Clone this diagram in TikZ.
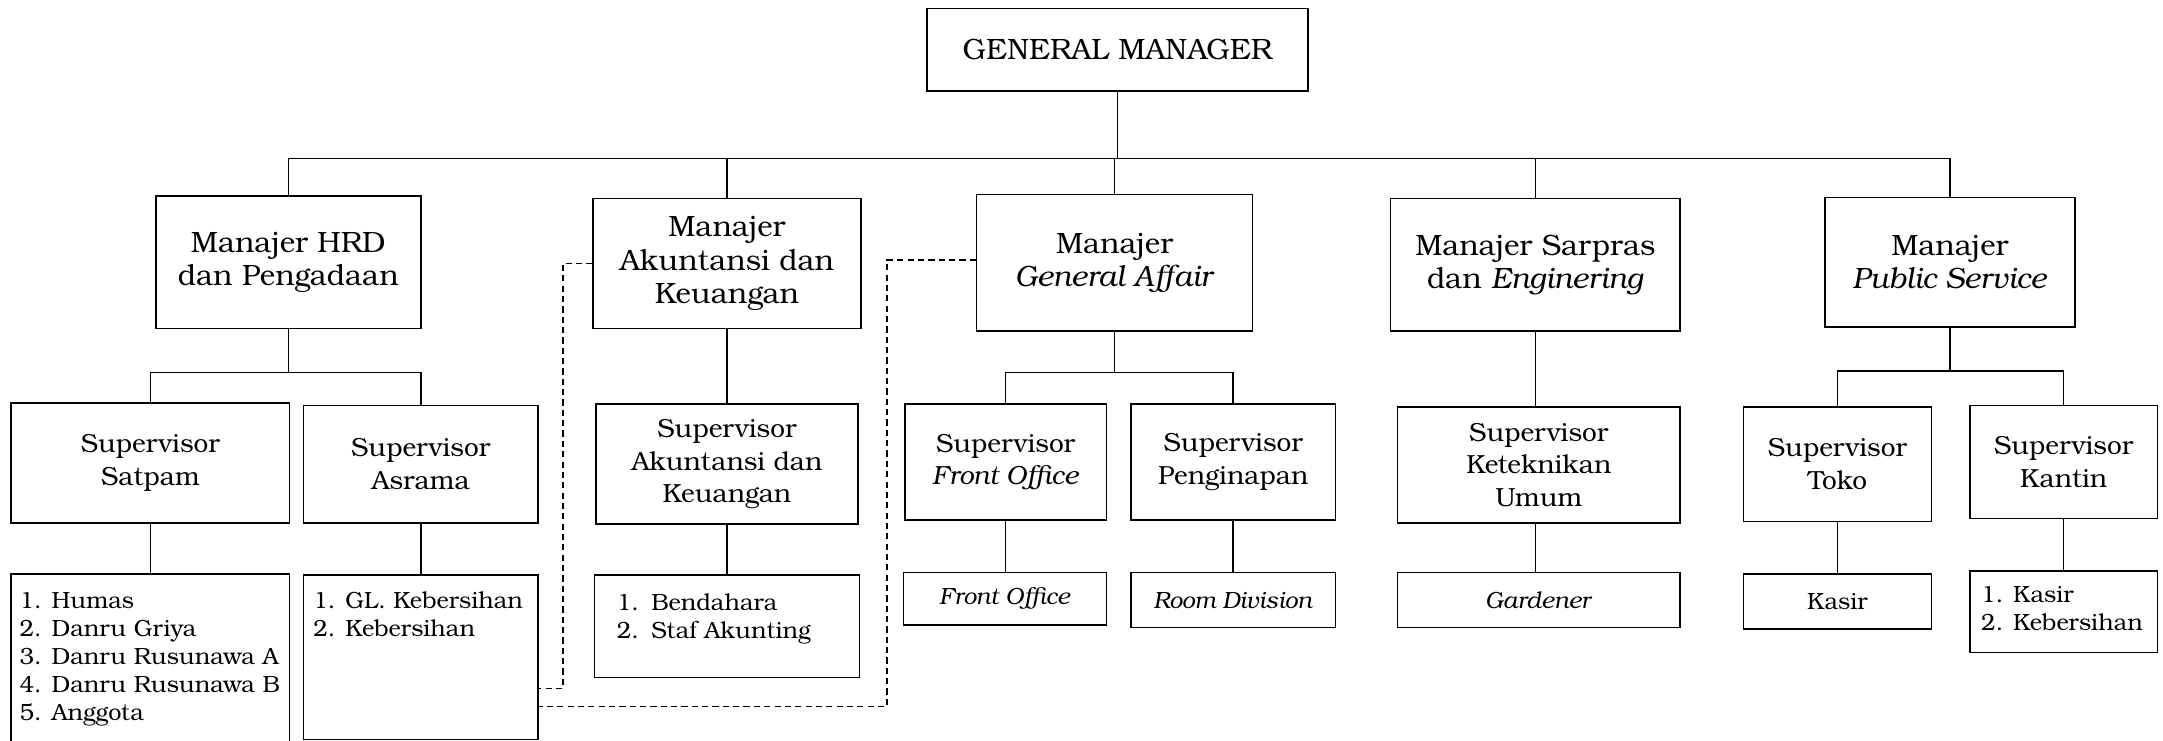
\documentclass[tikz,border=0pt]{standalone}
\usepackage{fontspec}
\IfFontExistsTF{TeX Gyre Bonum}{\setmainfont{TeX Gyre Bonum}}{\setmainfont{Liberation Serif}}
\newcommand{\mainfs}{\fontsize{19}{23.5}\selectfont}
\newcommand{\mgrfs}{\fontsize{21.3}{24}\selectfont}
\newcommand{\listfs}{\fontsize{17}{20.3}\selectfont}
\newcommand{\bx}[6]{\node[box, minimum width=#4pt, minimum height=#5pt] (#1) at (#2,#3) {#6};}
\newcommand{\mbx}[6]{\node[box, mgr, minimum width=#4pt, minimum height=#5pt] (#1) at (#2,#3) {#6};}
\begin{document}
\begin{tikzpicture}[x=1pt,y=-1pt,
  box/.style={draw=black, line width=1.1pt, inner sep=0pt, align=center, font=\mainfs},
  mgr/.style={font=\mgrfs},
  small/.style={font=\listfs},
  lst/.style={anchor=north west, inner sep=0pt, align=left, font=\listfs},
  conn/.style={line width=1.1pt},
  dsh/.style={line width=1pt, dash pattern=on 4.5pt off 3pt}]
\clip (0,0) rectangle (1568,537);
% top
\mbx{gm}{810}{36}{276}{60}{GENERAL MANAGER}
% managers
\mbx{hrd}{209}{190}{192}{96}{Manajer HRD\\dan Pengadaan}
\mbx{akm}{527}{191}{194}{94}{Manajer\\Akuntansi dan\\Keuangan}
\mbx{gam}{808}{190.5}{200}{99}{Manajer\\\textit{General Af{}f\kern-0.1em air}}
\mbx{sar}{1113}{192}{210}{96}{Manajer Sarpras\\dan \textit{Enginering}}
\mbx{psm}{1413.5}{190}{181}{94}{Manajer\\\textit{Public Service}}
% supervisors
\bx{sat}{109}{335.5}{202}{87}{Supervisor\\Satpam}
\bx{asr}{305}{336.5}{170}{85}{Supervisor\\Asrama}
\bx{sak}{527}{336.5}{190}{87}{Supervisor\\Akuntansi dan\\Keuangan}
\bx{sfo}{729}{335}{146}{84}{Supervisor\\\textit{Front Of{}fice}}
\bx{spe}{894}{335}{148}{84}{Supervisor\\Penginapan}
\bx{ske}{1115.5}{337}{205}{84}{Supervisor\\Keteknikan\\Umum}
\bx{sto}{1332}{336.5}{136}{83}{Supervisor\\Toko}
\bx{ska}{1496}{335}{136}{82}{Supervisor\\Kantin}
% staff
\bx{lsat}{109}{480}{202}{128}{}
\bx{lasr}{305}{476.5}{170}{119}{}
\bx{lsak}{527}{454}{192}{74}{}
\node[box, small, minimum width=147pt, minimum height=38pt] (lfo) at (728.5,434) {\textit{Front Of{}fice}};
\node[box, small, minimum width=148pt, minimum height=40pt] (lrd) at (894,435) {\textit{Room Division}};
\node[box, small, minimum width=205pt, minimum height=40pt] (lga) at (1115.5,435) {\textit{Gardener}};
\node[box, small, minimum width=136pt, minimum height=40pt] (lks) at (1332,436) {Kasir};
\bx{lka}{1496}{443.5}{136}{59}{}
% list texts
\node[lst] (tsat) at (14,429) {1. Humas\\2. Danru Griya\\3. Danru Rusunawa A\\4. Danru Rusunawa B\\5. Anggota};
\node[lst] (tasr) at (227,429) {1. GL. Kebersihan\\2. Kebersihan};
\node[lst] (tsak) at (447,430) {\makebox[25pt][l]{1.}Bendahara\\\makebox[25pt][l]{2.}Staf Akunting};
\node[lst] (tka) at (1436,425) {1. Kasir\\2. Kebersihan};
% connectors
\coordinate (bus) at (810,115);
\draw[conn] (gm.south) -- (gm.south |- bus);
\draw[conn] (hrd.north) -- (hrd.north |- bus) -- (psm.north |- bus) -- (psm.north);
\draw[conn] (akm.north) -- (akm.north |- bus);
\draw[conn] (gam.north) -- (gam.north |- bus);
\draw[conn] (sar.north) -- (sar.north |- bus);
\coordinate (hbr) at (209,270);
\draw[conn] (hrd.south) -- (hbr);
\draw[conn] (sat.north) -- (sat.north |- hbr) -- (asr.north |- hbr) -- (asr.north);
\coordinate (gbr) at (808,270);
\draw[conn] (gam.south) -- (gbr);
\draw[conn] (sfo.north) -- (sfo.north |- gbr) -- (spe.north |- gbr) -- (spe.north);
\coordinate (pbr) at (1413.5,269);
\draw[conn] (psm.south) -- (pbr);
\draw[conn] (sto.north) -- (sto.north |- pbr) -- (ska.north |- pbr) -- (ska.north);
\draw[conn] (akm.south) -- (sak.north);
\draw[conn] (sar.south) -- (ske.north -| sar.south);
\draw[conn] (sat.south) -- (lsat.north);
\draw[conn] (asr.south) -- (lasr.north);
\draw[conn] (sak.south) -- (lsak.north);
\draw[conn] (sfo.south) -- (lfo.north -| sfo.south);
\draw[conn] (spe.south) -- (lrd.north -| spe.south);
\draw[conn] (ske.south -| sar.south) -- (lga.north -| sar.south);
\draw[conn] (sto.south) -- (lks.north);
\draw[conn] (ska.south) -- (lka.north);
% dashed lines
\coordinate (d1) at (408,499);
\coordinate (d2) at (643,512);
\draw[dsh] (akm.west) -| (d1) -- (d1 -| lasr.east);
\draw[dsh] ([yshift=2pt]gam.west) -| (d2) -- (d2 -| lasr.east);
\end{tikzpicture}
\end{document}
